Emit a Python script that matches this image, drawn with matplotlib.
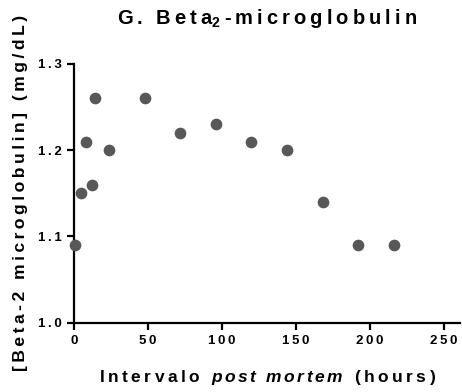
import numpy as np
import matplotlib
matplotlib.use("Agg")
import matplotlib.pyplot as plt

# Beta-2 microglobulin vs post mortem interval
horas = [1, 5, 8, 12, 14, 24, 48, 72, 96, 120, 144, 168, 192, 216]
beta2 = [1.09, 1.15, 1.21, 1.16, 1.26, 1.20, 1.26, 1.22, 1.23, 1.21, 1.20, 1.14, 1.09, 1.09]
xticks = [0, 50, 100, 150, 200, 250]
yticks = [1.0, 1.1, 1.2, 1.3]

SEP = '\u2009'  # espacio fino entre letras (texto espaciado estilo Prism)

def espaciar(s):
    return SEP.join(s)

plt.rcParams['font.family'] = 'Liberation Sans'
plt.rcParams['font.weight'] = 'bold'
plt.rcParams['mathtext.fontset'] = 'custom'
plt.rcParams['mathtext.rm'] = 'Liberation Sans:bold'
plt.rcParams['mathtext.bf'] = 'Liberation Sans:bold'
plt.rcParams['mathtext.it'] = 'Liberation Sans:italic:bold'

fig = plt.figure(figsize=(4.62, 3.92), dpi=100)
ax = fig.add_axes([0.160, 0.177, 0.836, 0.660])

ax.scatter(horas, beta2, s=55, color='#585858', zorder=3, clip_on=False)

ax.set_xlim(0, 261)
ax.set_ylim(1.0, 1.3)
ax.set_xticks(xticks)
ax.set_yticks(yticks)
ax.set_xticklabels([espaciar(str(v)) for v in xticks])
ax.set_yticklabels([espaciar(f'{v:.1f}') for v in yticks])

for s in ['top', 'right']:
    ax.spines[s].set_visible(False)
for s in ['left', 'bottom']:
    ax.spines[s].set_linewidth(1.6)
ax.tick_params(direction='out', length=5, width=1.6, labelsize=9.5, pad=4)

titulo = espaciar('G. Beta') + r'$_{\mathbf{2}}$' + SEP + espaciar('-microglobulin')
ax.set_title(titulo, fontsize=14.5, fontweight='bold', pad=29)

post = r'$\mathit{' + r'\,'.join('post') + r'\ \ ' + r'\,'.join('mortem') + '}$'
xlab = espaciar('Intervalo ') + SEP + post + SEP + espaciar(' (hours)')
ax.set_xlabel(xlab, fontsize=12.5, fontweight='bold', labelpad=15)
ax.set_ylabel(espaciar('[Beta-2 microglobulin] (mg/dL)'), fontsize=12.6,
              fontweight='bold', labelpad=7)

fig.savefig('out.png', dpi=100)
